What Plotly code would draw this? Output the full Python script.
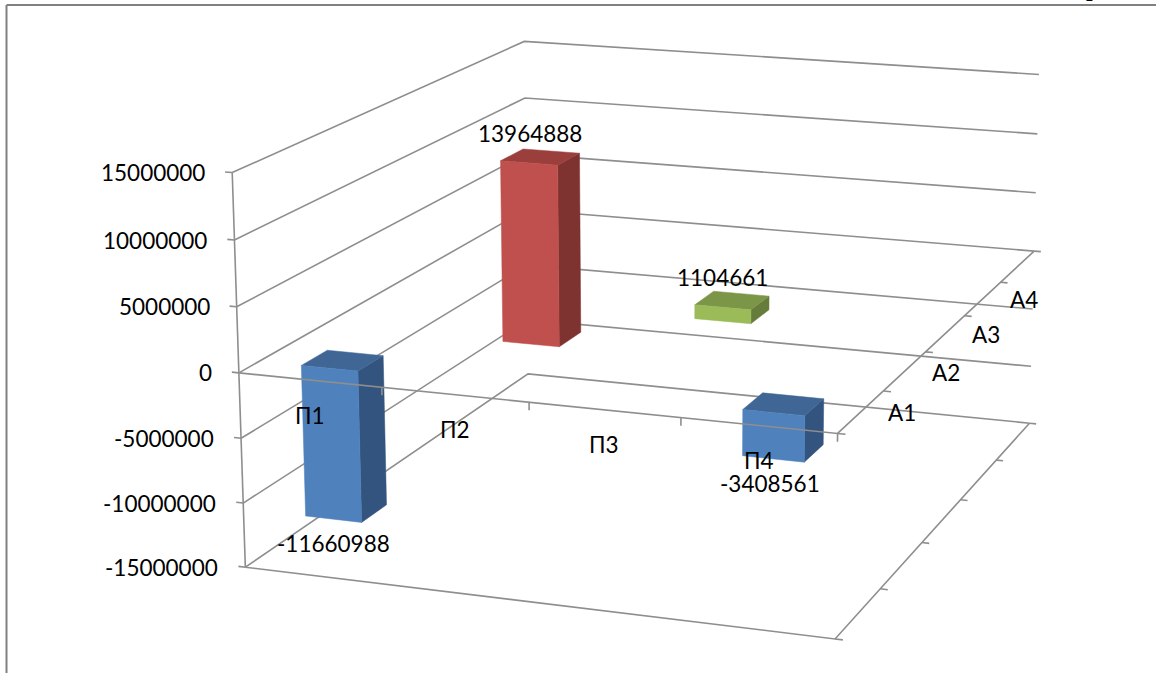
import numpy as np
import plotly.graph_objects as go

# ---- data -----
categories = ["П1", "П2", "П3", "П4"]
series_labels = ["А1", "А2", "А3", "А4"]
depth_slots = 5
value_ticks = [-15000000, -10000000, -5000000, 0, 5000000, 10000000, 15000000]
bar_category = [0, 1, 2, 3]
bar_series = [0, 1, 2, 0]
bar_values = [-11660988, 13964888, 1104661, -3408561]
series_colors = {0: ("#4F81BD", "#3F6695", "#32547E"),
                 1: ("#C0504D", "#9A3F3C", "#7F3331"),
                 2: ("#9BBB59", "#7C9647", "#667C3A")}

# ---- view calibration: box positions <-> picture positions, solved as one projective camera -----
view = [(0,0,-15,246,568),(4,0,-15,833,637),(4,5,-15,1029,423),(0,5,-15,527,375),
        (0,0,15,232,172),(0,5,15,525,42),(4,5,15,1038,74),
        (0,0,10,235,238),(0,0,5,237,305),(0,0,0,239,372),(0,0,-5,241,437),(0,0,-10,243,502),
        (4,0,0,835,433),(4,5,0,1032,251),(0,5,0,526,209),
        (1,0,0,382,392),(2,0,0,528,405),(3,0,0,680,420),
        (4,1,0,885,391),(4,2,0,927,352),(4,3,0,966,316),(4,4,0,1002,282),
        (4,1,-15,881,588),(4,2,-15,923,542),(4,3,-15,961,500),(4,4,-15,997,460)]
A = []
for X, Y, Z, u, v in view:
    A.append([X,Y,Z,1,0,0,0,0,-u*X,-u*Y,-u*Z,-u])
    A.append([0,0,0,0,X,Y,Z,1,-v*X,-v*Y,-v*Z,-v])
P = np.linalg.svd(np.array(A, float))[2][-1].reshape(3, 4)

def pr(x, y, z):
    h = P @ np.array([x, y, z / 1e6, 1.0])
    return h[0] / h[2], h[1] / h[2]

def path(points):
    xy = [pr(*p) for p in points]
    return [a for a, b in xy], [b for a, b in xy]

GRID = "#8e8e8e"
fig = go.Figure()

def add_lines(segments, width=1.6):
    xs, ys = [], []
    for seg in segments:
        a, b = path(seg)
        xs += a + [None]
        ys += b + [None]
    fig.add_trace(go.Scatter(x=xs, y=ys, mode="lines", line=dict(color=GRID, width=width),
                             hoverinfo="skip"))

n_cat = len(categories)
stub_x = 0.05
# walls and floor (behind the bars)
walls = [[(0, 0, z), (0, depth_slots, z), (n_cat, depth_slots, z)] for z in value_ticks]
walls.append([(0, 0, value_ticks[0]), (0, 0, value_ticks[-1])])
walls.append([(0, 0, value_ticks[0]), (n_cat, 0, value_ticks[0]), (n_cat, depth_slots, value_ticks[0])])
walls += [[(-stub_x, 0, z), (0, 0, z)] for z in value_ticks]
walls += [[(n_cat, d, value_ticks[0]), (n_cat + stub_x, d, value_ticks[0])] for d in range(depth_slots + 1)]
add_lines(walls)

# bars
gap = 0.3
def face(pts, color):
    x, y = path(pts + pts[:1])
    fig.add_trace(go.Scatter(x=x, y=y, mode="lines", fill="toself", fillcolor=color,
                             line=dict(color=color, width=0.5), hoverinfo="skip"))

for c, s, v in zip(bar_category, bar_series, bar_values):
    x0, x1 = c + gap, c + 1 - gap
    y0, y1 = s + gap, s + 1 - gap
    lo, hi = min(v, 0), max(v, 0)
    front, top, side = series_colors[s]
    face([(x1, y0, lo), (x1, y1, lo), (x1, y1, hi), (x1, y0, hi)], side)
    face([(x0, y0, hi), (x1, y0, hi), (x1, y1, hi), (x0, y1, hi)], top)
    face([(x0, y0, lo), (x1, y0, lo), (x1, y0, hi), (x0, y0, hi)], front)

# zero plane axes, in front of the bars
zero = [[(0, 0, 0), (n_cat, 0, 0), (n_cat, depth_slots, 0)]]
zero += [[(c, 0, 0), (c, 0, -600000)] for c in range(1, n_cat + 1)]
zero += [[(n_cat, d, 0), (n_cat + stub_x, d, 0)] for d in range(depth_slots + 1)]
add_lines(zero)

# text
FONT = dict(family="Lato", size=22.5, color="#000000")
notes = []
def note(x, y, z, text, dx=0, dy=0, anchor="center"):
    px, py = pr(x, y, z)
    notes.append(dict(x=px, y=py, text=text, showarrow=False, xanchor=anchor, yanchor="middle",
                      xshift=dx, yshift=-dy, font=FONT))

for z in value_ticks:
    note(0, 0, z, str(z), dx=-25, dy=0, anchor="right")
for i, c in enumerate(categories):
    note(i + 0.5, 0, 0, c, dy=35)
for i, s in enumerate(series_labels):
    note(n_cat, i + 0.5, 0, s, dx=41, dy=1)
for c, s, v in zip(bar_category, bar_series, bar_values):
    if v >= 0:
        note(c + 0.5, s + 0.5, v, str(v), dx=-10, dy=-23)
    else:
        note(c + 0.5, s + 0.5, v, str(v), dx=-13, dy=33)

# cropped heading above the page frame
HEAD = dict(family="Liberation Serif", size=24, color="#000000")
for px, t in [(1018, "д"), (1092, "р")]:
    notes.append(dict(x=px, xref="x", y=1, yref="paper", yanchor="bottom", yshift=-3, text="<b>%s</b>" % t,
                      showarrow=False, font=HEAD))

fig.update_layout(
    width=1156, height=673, margin=dict(l=0, r=0, t=0, b=0), showlegend=False,
    plot_bgcolor="#FFFFFF", paper_bgcolor="#FFFFFF", annotations=notes,
    xaxis=dict(range=[0, 1156], visible=False),
    yaxis=dict(range=[673, 0], visible=False),
    shapes=[dict(type="line", x0=6.5, x1=1156, y0=5, y1=5, line=dict(color="#808080", width=2)),
            dict(type="line", x0=6.5, x1=6.5, y0=5, y1=673, line=dict(color="#808080", width=2))],
)
fig.write_html("out.html", config=dict(displayModeBar=False),
               post_script="document.body.style.margin='0';document.body.style.overflow='hidden';")
